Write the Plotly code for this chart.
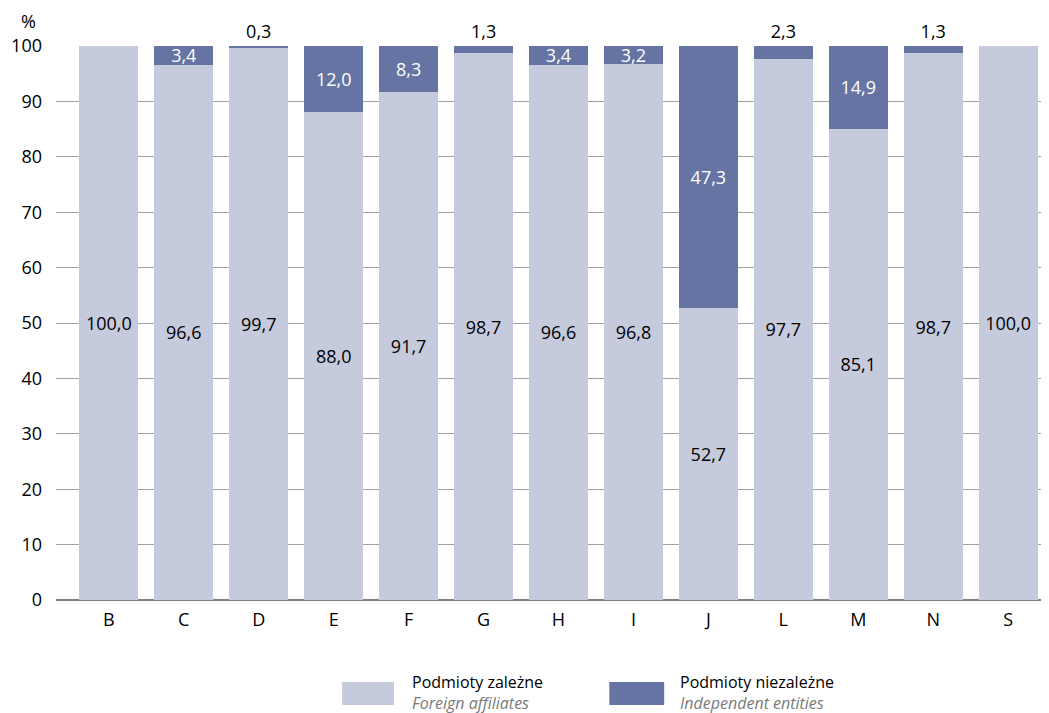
import plotly.graph_objects as go

# sections of the economy
categories = ["B", "C", "D", "E", "F", "G", "H", "I", "J", "L", "M", "N", "S"]
# share of foreign affiliates (Podmioty zależne), %
affiliates = [100.0, 96.6, 99.7, 88.0, 91.7, 98.7, 96.6, 96.8, 52.7, 97.7, 85.1, 98.7, 100.0]
# share of independent entities (Podmioty niezależne), %
independent = [0.0, 3.4, 0.3, 12.0, 8.3, 1.3, 3.4, 3.2, 47.3, 2.3, 14.9, 1.3, 0.0]
y_ticks = [0, 10, 20, 30, 40, 50, 60, 70, 80, 90, 100]

light = "#c5cadd"
dark = "#6674a3"
font_name = "Open Sans"
fs = 18

# the page body has an 8px margin, so the figure is 8px smaller each way
L, T, R, B = 45, 38, 3, 113
PW, PH = 993, 554


def fmt(v):
    return f"{v:.1f}".replace(".", ",")


def dark_pos(v):
    if v == 0:
        return "none"
    if v < 3:
        return "outside"
    return "inside"


def py(page_y):
    # page pixel y -> paper coordinate
    return (600 - page_y) / PH


def px(page_x):
    return (page_x - 8 - L) / PW


fig = go.Figure()
fig.add_trace(go.Bar(
    x=categories, y=affiliates, marker_color=light, marker_line_width=0,
    text=[fmt(v) for v in affiliates], textposition="inside",
    insidetextanchor="middle", textfont=dict(color="black", size=fs),
    constraintext="none", showlegend=False,
))
fig.add_trace(go.Bar(
    x=categories, y=independent, marker_color=dark, marker_line_width=0,
    text=[fmt(v) for v in independent], textposition=[dark_pos(v) for v in independent],
    insidetextanchor="middle", insidetextfont=dict(color="white", size=fs),
    outsidetextfont=dict(color="black", size=fs),
    constraintext="none", cliponaxis=False, showlegend=False,
))

fig.update_layout(
    barmode="stack", bargap=0.215,
    width=L + PW + R, height=T + PH + B,
    margin=dict(l=L, r=R, t=T, b=B),
    plot_bgcolor="white", paper_bgcolor="white",
    font=dict(family=font_name, size=fs, color="black"),
    xaxis=dict(range=[-0.705, 12.505], showgrid=False, showline=False,
               ticks="", ticklabelstandoff=7, tickfont=dict(size=fs)),
    yaxis=dict(range=[0, 100], tickvals=y_ticks, showgrid=True, gridcolor="#a0a0a0",
               gridwidth=1, zeroline=True, zerolinecolor="#808080", zerolinewidth=1.5,
               ticks="", ticklabelstandoff=13, tickfont=dict(size=fs)),
)

fig.add_annotation(text="%", x=0, xref="paper", xanchor="center", xshift=-28,
                   y=1, yref="paper", yanchor="bottom", yshift=11,
                   showarrow=False, font=dict(size=fs))

# legend drawn by hand: key rectangles with two-line captions (page pixel coords)
legend_items = [
    (light, "Podmioty zależne", "Foreign affiliates", 340, 392, 408),
    (dark, "Podmioty niezależne", "Independent entities", 608, 663, 677),
]
for color, pl, en, x0, x1, xt in legend_items:
    fig.add_shape(type="rect", xref="paper", yref="paper",
                  x0=px(x0), x1=px(x1), y0=py(705), y1=py(682),
                  fillcolor=color, line_width=0)
    fig.add_annotation(text=f"{pl}<br><span style='color:#7a7a7a'><i>{en}</i></span>",
                       xref="paper", yref="paper", x=px(xt), xanchor="left",
                       y=py(692), yanchor="middle", align="left", showarrow=False,
                       font=dict(size=16))

fig.write_html("out.html")
